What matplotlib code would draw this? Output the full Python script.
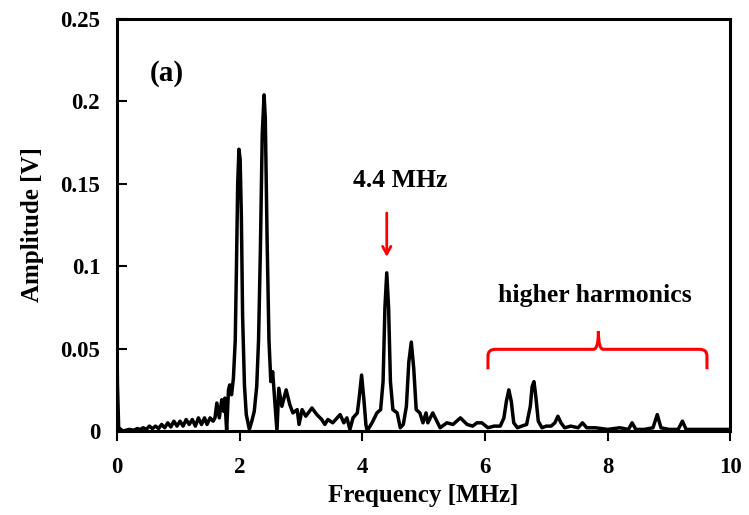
import numpy as np
import matplotlib
matplotlib.use("Agg")
import matplotlib.pyplot as plt
from matplotlib.path import Path
from matplotlib.patches import PathPatch
from matplotlib.ticker import FuncFormatter

plt.rcParams['font.family'] = ['Liberation Serif', 'DejaVu Serif']
plt.rcParams['font.weight'] = 'bold'

# spectrum: frequency [MHz], amplitude [V]
freq = [0.00, 0.01, 0.03, 0.10, 0.20, 0.28, 0.33, 0.38, 0.43, 0.48, 0.53, 0.58,
        0.63, 0.68, 0.73, 0.78, 0.83, 0.88, 0.93, 0.98, 1.03, 1.08, 1.13, 1.18,
        1.23, 1.28, 1.33, 1.38, 1.43, 1.47, 1.52, 1.57, 1.60, 1.63, 1.67, 1.71,
        1.74, 1.76, 1.79, 1.82, 1.84, 1.87, 1.90, 1.93, 1.95, 1.97, 1.99, 2.01,
        2.03, 2.05, 2.08, 2.11, 2.16, 2.20, 2.24, 2.28, 2.31, 2.34, 2.37, 2.40,
        2.42, 2.45, 2.48, 2.51, 2.54, 2.58, 2.61, 2.64, 2.69, 2.76, 2.82, 2.87,
        2.94, 2.97, 3.02, 3.08, 3.18, 3.26, 3.34, 3.39, 3.44, 3.52, 3.64, 3.70,
        3.75, 3.80, 3.85, 3.92, 3.95, 3.99, 4.03, 4.06, 4.08, 4.16, 4.24, 4.30,
        4.34, 4.37, 4.40, 4.43, 4.46, 4.50, 4.57, 4.62, 4.67, 4.72, 4.76, 4.80,
        4.84, 4.88, 4.94, 4.99, 5.04, 5.07, 5.15, 5.27, 5.38, 5.48, 5.60, 5.71,
        5.80, 5.87, 5.95, 6.05, 6.15, 6.25, 6.31, 6.35, 6.39, 6.43, 6.47, 6.53,
        6.60, 6.68, 6.74, 6.77, 6.80, 6.83, 6.87, 6.93, 7.00, 7.08, 7.14, 7.19,
        7.24, 7.30, 7.40, 7.52, 7.59, 7.66, 7.80, 8.00, 8.20, 8.34, 8.40, 8.46,
        8.60, 8.74, 8.81, 8.87, 9.00, 9.15, 9.22, 9.28, 9.40, 9.60, 9.80, 10.00]
amp = [0.060, 0.028, 0.002, 0.000, 0.001, 0.0005, 0.0015, 0.001, 0.002, 0.001, 0.003, 0.0015,
       0.003, 0.0015, 0.004, 0.002, 0.005, 0.0025, 0.006, 0.003, 0.006, 0.003, 0.007, 0.004,
       0.007, 0.003, 0.008, 0.004, 0.008, 0.004, 0.008, 0.006, 0.008, 0.017, 0.008, 0.019,
       0.012, 0.020, 0.000, 0.025, 0.028, 0.022, 0.032, 0.055, 0.100, 0.150, 0.171, 0.165,
       0.130, 0.070, 0.028, 0.010, 0.001, 0.006, 0.012, 0.027, 0.055, 0.110, 0.180, 0.204,
       0.190, 0.115, 0.055, 0.030, 0.036, 0.015, 0.000, 0.026, 0.015, 0.025, 0.016, 0.011,
       0.013, 0.004, 0.013, 0.009, 0.014, 0.010, 0.007, 0.004, 0.007, 0.005, 0.010, 0.005,
       0.008, 0.001, 0.008, 0.011, 0.020, 0.034, 0.018, 0.004, 0.000, 0.005, 0.011, 0.013,
       0.030, 0.075, 0.096, 0.075, 0.030, 0.013, 0.011, 0.002, 0.004, 0.015, 0.042, 0.054,
       0.038, 0.013, 0.011, 0.005, 0.011, 0.005, 0.011, 0.002, 0.005, 0.004, 0.008, 0.004,
       0.003, 0.005, 0.005, 0.002, 0.003, 0.003, 0.008, 0.018, 0.025, 0.018, 0.005, 0.002,
       0.003, 0.004, 0.015, 0.027, 0.030, 0.021, 0.006, 0.002, 0.003, 0.003, 0.005, 0.009,
       0.005, 0.002, 0.003, 0.002, 0.005, 0.002, 0.002, 0.001, 0.002, 0.001, 0.005, 0.001,
       0.001, 0.002, 0.010, 0.002, 0.001, 0.001, 0.006, 0.001, 0.001, 0.001, 0.001, 0.001]

x_ticks = [0, 2, 4, 6, 8, 10]
y_ticks = [0, 0.05, 0.1, 0.15, 0.2, 0.25]

fig = plt.figure(figsize=(7.49, 5.15), dpi=100)
ax = fig.add_axes([0.156, 0.163, 0.819, 0.800])

ax.plot(freq, amp, color='black', lw=2.5, solid_joinstyle='round')

ax.set_xlim(0, 10)
ax.set_ylim(0, 0.25)
ax.set_xticks(x_ticks)
ax.set_yticks(y_ticks)
ax.yaxis.set_major_formatter(FuncFormatter(lambda v, p: '%g' % v))
ax.tick_params(axis='x', direction='out', length=7, width=1.5, pad=12, labelsize=16.5)
ax.tick_params(axis='y', direction='in', length=7, width=1.5, pad=12, labelsize=16.5)
for s in ax.spines.values():
    s.set_linewidth(2.2)

ax.set_xlabel('Frequency [MHz]', fontsize=18, fontweight='bold', labelpad=4)
ax.set_ylabel('Amplitude [V]', fontsize=18, fontweight='bold', labelpad=12)

ax.text(0.82, 0.217, '(a)', fontsize=21, fontweight='bold', ha='center', va='center')
ax.text(4.62, 0.152, '4.4 MHz', fontsize=18.5, fontweight='bold', ha='center', va='center')
ax.text(7.8, 0.082, 'higher harmonics', fontsize=18.5, fontweight='bold', ha='center', va='center')

# red arrow to the 4.4 MHz peak
ax.annotate('', xy=(4.40, 0.104), xytext=(4.40, 0.134),
            arrowprops=dict(arrowstyle='->,head_length=0.55,head_width=0.3',
                            color='red', lw=2))

# red bracket over the higher harmonics
yb, yd, yt = 0.0496, 0.0375, 0.0605
xl, xm, xr = 6.05, 7.85, 9.62
verts = [(xl, yd), (xl, yb - 0.004), (xl, yb), (xl + 0.12, yb),
         (xm - 0.08, yb), (xm, yb), (xm, yt), (xm, yb), (xm + 0.08, yb),
         (xr - 0.12, yb), (xr, yb), (xr, yb - 0.004), (xr, yd)]
codes = [Path.MOVETO, Path.LINETO, Path.CURVE3, Path.CURVE3,
         Path.LINETO, Path.CURVE3, Path.CURVE3, Path.CURVE3, Path.CURVE3,
         Path.LINETO, Path.CURVE3, Path.CURVE3, Path.LINETO]
ax.add_patch(PathPatch(Path(verts, codes), fill=False, edgecolor='red', lw=2.2))

fig.savefig('out.png', dpi=100)
